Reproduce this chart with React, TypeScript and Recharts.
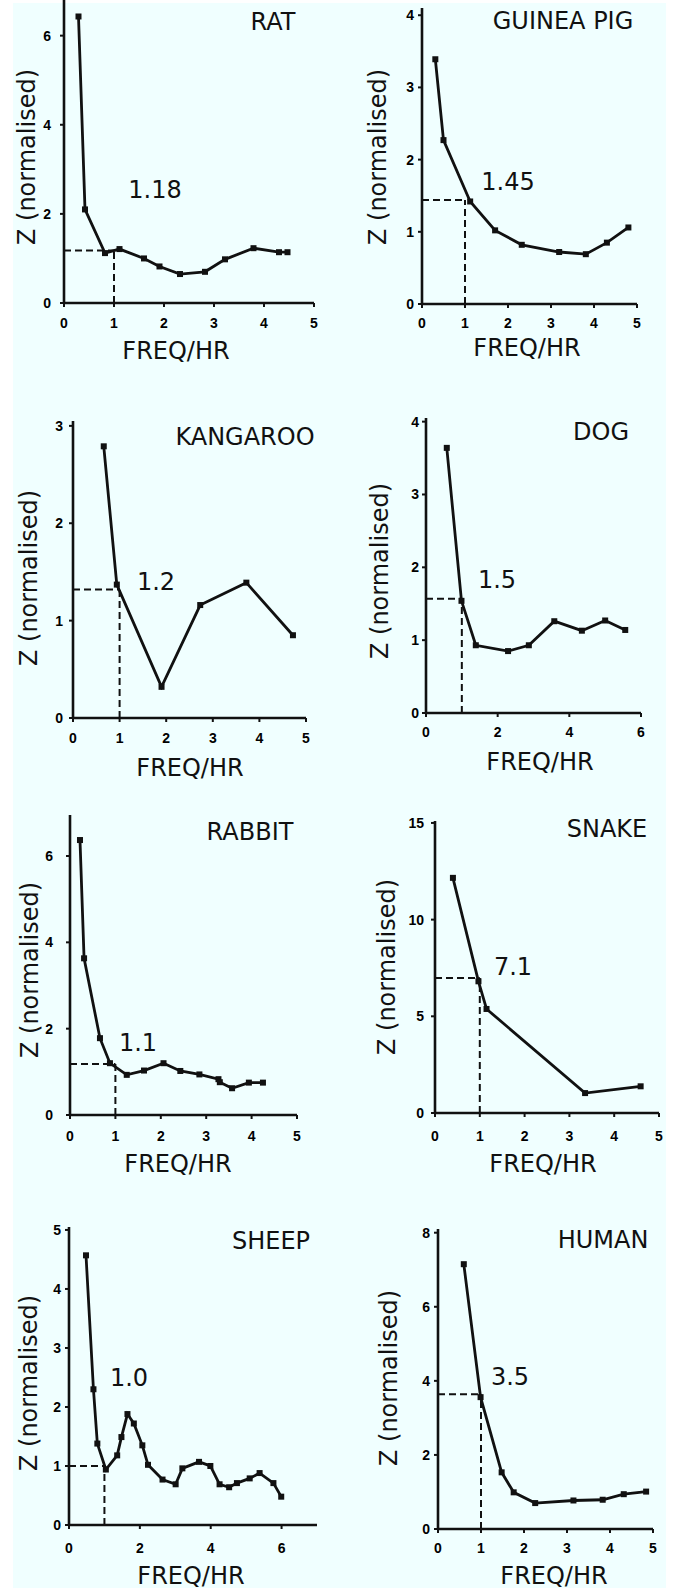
import React from 'react';
import { LineChart, Line, XAxis, YAxis, ReferenceLine } from 'recharts';

// ---------- DATA ----------
const ratFreq = [0.29, 0.42, 0.82, 1.11, 1.6, 1.91, 2.32, 2.82, 3.22, 3.79, 4.3, 4.47];
const ratZ = [6.43, 2.1, 1.12, 1.21, 1.0, 0.82, 0.65, 0.7, 0.98, 1.23, 1.14, 1.14];

const guineaFreq = [0.31, 0.5, 1.12, 1.7, 2.32, 3.19, 3.81, 4.3, 4.8];
const guineaZ = [3.39, 2.27, 1.42, 1.02, 0.82, 0.72, 0.69, 0.85, 1.06];

const kangarooFreq = [0.66, 0.94, 1.9, 2.73, 3.72, 4.72];
const kangarooZ = [2.79, 1.37, 0.32, 1.16, 1.39, 0.85];

const dogFreq = [0.58, 0.99, 1.39, 2.29, 2.87, 3.58, 4.35, 5.0, 5.56];
const dogZ = [3.64, 1.54, 0.93, 0.85, 0.93, 1.26, 1.13, 1.27, 1.14];

const rabbitFreq = [0.22, 0.31, 0.66, 0.88, 1.25, 1.63, 2.06, 2.43, 2.85, 3.27, 3.3, 3.57, 3.94, 4.25];
const rabbitZ = [6.37, 3.63, 1.78, 1.2, 0.93, 1.03, 1.2, 1.02, 0.94, 0.83, 0.76, 0.62, 0.75, 0.75];

const snakeFreq = [0.4, 0.97, 1.15, 3.35, 4.59];
const snakeZ = [12.16, 6.81, 5.38, 1.03, 1.38];

const sheepFreq = [0.48, 0.69, 0.8, 1.04, 1.36, 1.48, 1.65, 1.83, 2.07, 2.23, 2.64, 3.01, 3.2, 3.67, 3.99, 4.25, 4.52, 4.74, 5.1, 5.38, 5.77, 5.99];
const sheepZ = [4.57, 2.3, 1.38, 0.94, 1.18, 1.49, 1.88, 1.72, 1.35, 1.02, 0.77, 0.69, 0.96, 1.07, 1.0, 0.69, 0.64, 0.71, 0.79, 0.88, 0.71, 0.48];

const humanFreq = [0.6, 0.99, 1.48, 1.76, 2.26, 3.15, 3.83, 4.32, 4.84];
const humanZ = [7.15, 3.56, 1.53, 0.99, 0.7, 0.77, 0.79, 0.94, 1.01];

const speciesNames = ['RAT', 'GUINEA PIG', 'KANGAROO', 'DOG', 'RABBIT', 'SNAKE', 'SHEEP', 'HUMAN'];
const crossLabels = ['1.18', '1.45', '1.2', '1.5', '1.1', '7.1', '1.0', '3.5'];
const crossLevels = [1.18, 1.44, 1.32, 1.57, 1.18, 6.98, 1.0, 3.64];
const crossFreq = 1;

const xMaxes = [5, 5, 5, 6, 5, 5, 7, 5];
const yMaxes = [6.8, 4.1, 3.05, 4.05, 6.95, 15.1, 5.05, 8.1];
const xTickSets = [
  [0, 1, 2, 3, 4, 5],
  [0, 1, 2, 3, 4, 5],
  [0, 1, 2, 3, 4, 5],
  [0, 2, 4, 6],
  [0, 1, 2, 3, 4, 5],
  [0, 1, 2, 3, 4, 5],
  [0, 2, 4, 6],
  [0, 1, 2, 3, 4, 5],
];
const yTickSets = [
  [0, 2, 4, 6],
  [0, 1, 2, 3, 4],
  [0, 1, 2, 3],
  [0, 1, 2, 3, 4],
  [0, 2, 4, 6],
  [0, 5, 10, 15],
  [0, 1, 2, 3, 4, 5],
  [0, 2, 4, 6, 8],
];
const seriesFreq = [ratFreq, guineaFreq, kangarooFreq, dogFreq, rabbitFreq, snakeFreq, sheepFreq, humanFreq];
const seriesZ = [ratZ, guineaZ, kangarooZ, dogZ, rabbitZ, snakeZ, sheepZ, humanZ];

const xAxisLabel = 'FREQ/HR';
const yAxisLabel = 'Z (normalised)';

// ---------- LAYOUT (page pixels) ----------
// plot rectangle: left (x=0), right (x=xMax), top (y=yMax), bottom (y=0)
const layout = [
  { left: 64, right: 314, top: 0, bottom: 303, yGap: 13, xGap: 15, title: [273, 22], xl: [176, 351], yl: [27, 157], val: [155, 190] },
  { left: 422, right: 637, top: 8, bottom: 304, yGap: 8, xGap: 14, title: [563, 21], xl: [527, 348], yl: [378, 157], val: [508, 182] },
  { left: 73, right: 306, top: 421, bottom: 718, yGap: 10, xGap: 15, title: [245, 437], xl: [190, 768], yl: [29, 578], val: [156, 582] },
  { left: 426, right: 641, top: 418, bottom: 713, yGap: 7, xGap: 14, title: [601, 432], xl: [540, 762], yl: [380, 571], val: [497, 580] },
  { left: 70, right: 297, top: 815, bottom: 1115, yGap: 17, xGap: 16, title: [250, 832], xl: [178, 1164], yl: [30, 970], val: [138, 1043] },
  { left: 435, right: 659, top: 821, bottom: 1113, yGap: 11, xGap: 18, title: [607, 829], xl: [543, 1164], yl: [387, 967], val: [513, 967] },
  { left: 69, right: 317, top: 1227, bottom: 1525, yGap: 8, xGap: 18, title: [271, 1241], xl: [191, 1576], yl: [29, 1383], val: [129, 1378] },
  { left: 438, right: 653, top: 1229, bottom: 1529, yGap: 8, xGap: 14, title: [603, 1240], xl: [554, 1576], yl: [389, 1378], val: [510, 1377] },
];

const INK = '#111';
const TEXT_FONT = 'Verdana, "DejaVu Sans", sans-serif';
const TICK_FONT = '"Liberation Sans", Arial, sans-serif';

const SquareDot = (props: any) => {
  const { cx, cy, index } = props;
  if (cx == null || cy == null) return <g key={`d${index}`} />;
  return <rect key={`d${index}`} x={cx - 3} y={cy - 3} width={6} height={6} fill={INK} />;
};

function Panel({ i }: { i: number }) {
  const L = layout[i];
  const ML = 44;
  const MT = 10;
  const MR = 14;
  const MB = 36;
  const plotW = L.right - L.left;
  const plotH = L.bottom - L.top;
  const data = seriesFreq[i].map((f, k) => ({ f, z: seriesZ[i][k] }));
  const lvl = crossLevels[i];
  const tickStyle = { fill: '#000', fontSize: 14, fontWeight: 700, fontFamily: TICK_FONT };
  return (
    <div style={{ position: 'absolute', left: L.left - ML, top: L.top - MT }}>
      <LineChart
        width={plotW + ML + MR}
        height={plotH + MT + MB}
        data={data}
        margin={{ top: MT, right: MR, left: 0, bottom: 0 }}
      >
        <XAxis
          dataKey="f"
          type="number"
          domain={[0, xMaxes[i]]}
          allowDataOverflow
          ticks={xTickSets[i]}
          interval={0}
          height={MB}
          tickSize={4}
          tickMargin={L.xGap - 4}
          axisLine={{ stroke: INK, strokeWidth: 2.6 }}
          tickLine={{ stroke: INK, strokeWidth: 2 }}
          tick={tickStyle}
        />
        <YAxis
          type="number"
          domain={[0, yMaxes[i]]}
          allowDataOverflow
          ticks={yTickSets[i]}
          interval={0}
          width={ML}
          tickSize={4}
          tickMargin={L.yGap - 4}
          axisLine={{ stroke: INK, strokeWidth: 2.6 }}
          tickLine={{ stroke: INK, strokeWidth: 2 }}
          tick={tickStyle}
        />
        <ReferenceLine
          segment={[{ x: 0, y: lvl }, { x: crossFreq, y: lvl }]}
          stroke={INK}
          strokeWidth={2}
          strokeDasharray="7 4"
        />
        <ReferenceLine
          segment={[{ x: crossFreq, y: 0 }, { x: crossFreq, y: lvl }]}
          stroke={INK}
          strokeWidth={2}
          strokeDasharray="7 4"
        />
        <Line
          type="linear"
          dataKey="z"
          stroke={INK}
          strokeWidth={2.8}
          dot={SquareDot}
          activeDot={false}
          isAnimationActive={false}
        />
      </LineChart>
    </div>
  );
}

const centered = (x: number, y: number, extra: React.CSSProperties = {}): React.CSSProperties => ({
  position: 'absolute',
  left: x,
  top: y,
  transform: 'translate(-50%, -50%)',
  whiteSpace: 'nowrap',
  fontFamily: TEXT_FONT,
  fontSize: 24,
  lineHeight: 1,
  color: INK,
  ...extra,
});

export default function App() {
  return (
    <div
      style={{
        position: 'absolute',
        left: 0,
        top: 0,
        width: 683,
        height: 1592,
        background: '#fff',
        overflow: 'hidden',
      }}
    >
      <div style={{ position: 'absolute', left: 13, top: 3, width: 653, height: 1585, background: '#F0FFFF' }} />
      {layout.map((L, i) => (
        <React.Fragment key={i}>
          <Panel i={i} />
          <div style={centered(L.title[0], L.title[1])}>{speciesNames[i]}</div>
          <div style={centered(L.xl[0], L.xl[1])}>{xAxisLabel}</div>
          <div style={centered(L.yl[0], L.yl[1], { transform: 'translate(-50%, -50%) rotate(-90deg)' })}>{yAxisLabel}</div>
          <div style={centered(L.val[0], L.val[1])}>{crossLabels[i]}</div>
        </React.Fragment>
      ))}
    </div>
  );
}
